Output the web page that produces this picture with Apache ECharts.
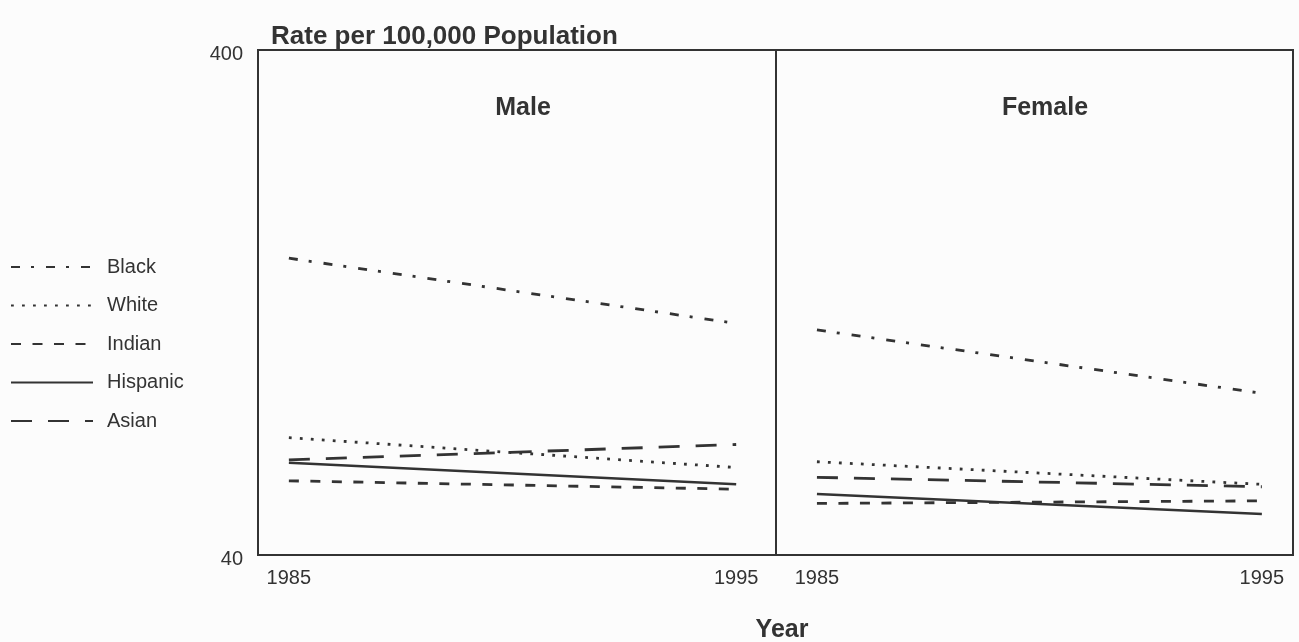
<!DOCTYPE html>
<html>
<head>
<meta charset="utf-8">
<script src="https://cdn.jsdelivr.net/npm/echarts@6/dist/echarts.min.js"></script>
<style>
html,body{margin:0;padding:0;background:#fcfcfc;}
#chart{width:1299px;height:642px;}
</style>
</head>
<body>
<div id="chart"></div>
<script>
// ---- data ----
var years = [1985, 1995];
var groups = ['Black', 'White', 'Indian', 'Hispanic', 'Asian'];
var maleBlack    = [154.8, 115.0];
var maleWhite    = [68.3, 59.6];
var maleIndian   = [56.1, 54.0];
var maleHispanic = [60.9, 55.2];
var maleAsian    = [61.7, 66.2];
var femaleBlack    = [111.6, 83.6];
var femaleWhite    = [61.2, 55.2];
var femaleIndian   = [50.6, 51.2];
var femaleHispanic = [52.8, 48.2];
var femaleAsian    = [57.0, 54.6];
var yTickLabels = [40, 400];
var xTickLabels = [1985, 1995];

var maleData = {Black: maleBlack, White: maleWhite, Indian: maleIndian, Hispanic: maleHispanic, Asian: maleAsian};
var femaleData = {Black: femaleBlack, White: femaleWhite, Indian: femaleIndian, Hispanic: femaleHispanic, Asian: femaleAsian};

var INK = '#333333';
var FONT = '"Liberation Sans", Arial, Helvetica, sans-serif';
var styles = {
  Black:    {type: [9, 11, 3, 12], width: 2.8},
  White:    {type: [2.8, 8.2], width: 2.8},
  Indian:   {type: [10, 11.5], width: 2.8},
  Hispanic: {type: 'solid', width: 2.5},
  Asian:    {type: [21, 16], width: 2.8}
};

function pairs(vals) {
  return years.map(function (y, i) { return [y, vals[i]]; });
}

var series = [];
[maleData, femaleData].forEach(function (d, gi) {
  groups.forEach(function (g) {
    series.push({
      name: g,
      type: 'line',
      xAxisIndex: gi,
      yAxisIndex: gi,
      data: pairs(d[g]),
      symbol: 'none',
      showSymbol: false,
      silent: true,
      animation: false,
      lineStyle: {color: INK, width: styles[g].width, type: styles[g].type, cap: 'butt'},
      itemStyle: {color: INK}
    });
  });
});

function yLabel(v) {
  for (var i = 0; i < yTickLabels.length; i++) {
    if (Math.abs(v - yTickLabels[i]) < 0.5) return '{a|' + yTickLabels[i] + '}';
  }
  return '';
}

var chart = echarts.init(document.getElementById('chart'));
chart.setOption({
  backgroundColor: '#fcfcfc',
  animation: false,
  textStyle: {fontFamily: FONT, color: INK},
  title: [
    {text: 'Rate per 100,000 Population', left: 266, top: 19,
     textStyle: {fontFamily: FONT, fontWeight: 'bold', fontSize: 26, color: INK}},
    {text: 'Male', left: 518, top: 91, textAlign: 'center',
     textStyle: {fontFamily: FONT, fontWeight: 'bold', fontSize: 25, color: INK}},
    {text: 'Female', left: 1040, top: 91, textAlign: 'center',
     textStyle: {fontFamily: FONT, fontWeight: 'bold', fontSize: 25, color: INK}},
    {text: 'Year', left: 777, top: 613, textAlign: 'center',
     textStyle: {fontFamily: FONT, fontWeight: 'bold', fontSize: 25, color: INK}}
  ],
  legend: {
    data: groups,
    orient: 'vertical',
    left: 10,
    top: 257,
    padding: 0,
    itemWidth: 82,
    itemHeight: 14,
    itemGap: 18.5,
    selectedMode: false,
    itemStyle: {opacity: 0},
    textStyle: {fontFamily: FONT, fontSize: 20, color: INK, lineHeight: 20, padding: [0, 0, 0, 9]}
  },
  grid: [
    {left: 258, top: 50, width: 518, height: 505, show: true, borderColor: INK, borderWidth: 2, backgroundColor: 'transparent'},
    {left: 776, top: 50, width: 517, height: 505, show: true, borderColor: INK, borderWidth: 2, backgroundColor: 'transparent'}
  ],
  xAxis: [
    {type: 'value', gridIndex: 0, min: 1984.31, max: 1995.89,
     axisLine: {show: false}, axisTick: {show: false}, splitLine: {show: false},
     axisLabel: {customValues: xTickLabels, formatter: function (v) { return String(v); },
                 fontFamily: FONT, fontSize: 20, color: INK, margin: 13}},
    {type: 'value', gridIndex: 1, min: 1984.08, max: 1995.70,
     axisLine: {show: false}, axisTick: {show: false}, splitLine: {show: false},
     axisLabel: {customValues: xTickLabels, formatter: function (v) { return String(v); },
                 fontFamily: FONT, fontSize: 20, color: INK, margin: 13}}
  ],
  yAxis: [
    {type: 'log', logBase: 10, gridIndex: 0, min: 40, max: 400,
     axisLine: {show: false}, axisTick: {show: false}, splitLine: {show: false}, minorSplitLine: {show: false},
     axisLabel: {formatter: yLabel, fontFamily: FONT, fontSize: 20, color: INK, margin: 15,
                 showMinLabel: true, showMaxLabel: true,
                 rich: {a: {fontFamily: FONT, fontSize: 20, color: INK, padding: [9, 0, 0, 0]}}}},
    {type: 'log', logBase: 10, gridIndex: 1, min: 40, max: 400,
     axisLine: {show: false}, axisTick: {show: false}, splitLine: {show: false},
     axisLabel: {show: false}}
  ],
  series: series
});
</script>
</body>
</html>
